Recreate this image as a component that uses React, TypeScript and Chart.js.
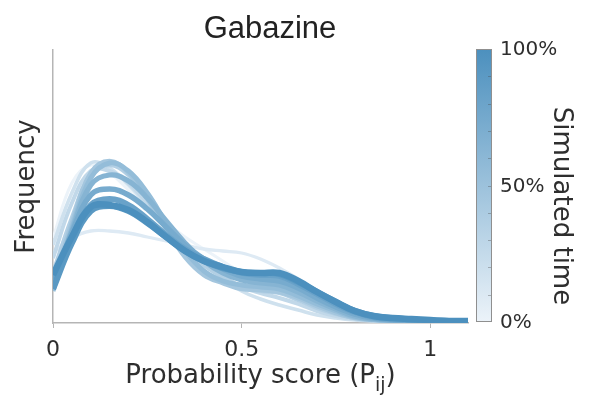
import React, { useEffect, useRef } from "react";
import { Chart, registerables } from "chart.js";

Chart.register(...registerables);

// Probability score grid shared by every curve
const scores = [
  0, 0.05, 0.1, 0.15, 0.2, 0.25, 0.3, 0.35, 0.4, 0.45, 0.5, 0.55,
  0.6, 0.65, 0.7, 0.75, 0.8, 0.85, 0.9, 0.95, 1, 1.05, 1.1,
];

// Fraction of simulated time at which each distribution was taken
const simulatedTime = [0, 0.09, 0.18, 0.27, 0.36, 0.45, 0.55, 0.64, 0.73, 0.82, 0.91, 1];

// Frequency (arbitrary units) of each distribution over the score grid
const freqT00 = [85, 140, 158, 150, 133, 115, 100, 86, 74, 62, 50, 40, 31, 22, 14, 8, 4, 2.5, 1.5, 1, 0.7, 0.4, 0.2];
const freqT09 = [70, 85, 92, 92, 90, 86, 82, 78, 74, 72, 70, 64, 55, 44, 32, 21, 12, 6, 3, 2, 1, 0.6, 0.3];
const freqT18 = [78, 130, 160, 155, 138, 118, 98, 80, 62, 45, 32, 24, 18, 13, 8, 5, 3, 2, 1.2, 0.8, 0.5, 0.3, 0.2];
const freqT27 = [65, 120, 152, 152, 140, 120, 100, 80, 62, 48, 36, 30, 25, 19, 12, 7, 4, 2.5, 1.5, 1, 0.6, 0.4, 0.2];
const freqT36 = [50, 105, 148, 158, 148, 126, 100, 76, 58, 46, 36, 32, 30, 23, 15, 9, 5, 3, 2, 1.2, 0.8, 0.5, 0.3];
const freqT45 = [38, 100, 150, 162, 150, 124, 94, 66, 48, 40, 34, 33, 31, 25, 17, 10, 5, 3, 2, 1.2, 0.8, 0.5, 0.3];
const freqT55 = [32, 95, 145, 160, 152, 130, 100, 72, 52, 42, 38, 36, 34, 27, 19, 12, 6, 3.5, 2.5, 1.5, 1, 0.6, 0.4];
const freqT64 = [36, 92, 138, 148, 142, 125, 102, 80, 62, 50, 43, 40, 38, 31, 22, 14, 7, 4, 2.5, 1.5, 1, 0.6, 0.4];
const freqT73 = [40, 90, 128, 134, 128, 114, 96, 78, 64, 54, 47, 44, 42, 35, 25, 16, 9, 5, 3, 2, 1.3, 0.8, 0.5];
const freqT82 = [44, 86, 118, 124, 118, 104, 88, 74, 64, 56, 50, 48, 47, 39, 29, 19, 11, 6, 4, 3, 2, 1.5, 1];
const freqT91 = [34, 80, 112, 117, 112, 100, 86, 72, 62, 55, 51, 50, 49, 41, 31, 21, 12, 7, 5, 3.5, 2.5, 2, 1.5];
const freqT100 = [48, 86, 116, 118, 113, 101, 86, 72, 62, 56, 51, 50, 50, 42, 31, 21, 12, 7, 5, 4, 3, 2, 2];

const frequencies = [
  freqT00, freqT09, freqT18, freqT27, freqT36, freqT45,
  freqT55, freqT64, freqT73, freqT82, freqT91, freqT100,
];

const xTicks = [0, 0.5, 1];
const colorbarTicks = [0, 0.5, 1];
const colorbarLabels = ["0%", "50%", "100%"];

const LIGHT = [236, 243, 249];
const DARK = [76, 144, 190];

function timeColor(t: number): string {
  const c = LIGHT.map((l, i) => Math.round(l + (DARK[i] - l) * t));
  return `rgb(${c[0]}, ${c[1]}, ${c[2]})`;
}

const TEXT = "#2e2e2e";
const SANS = "'DejaVu Sans', sans-serif";

const decorations = {
  id: "decorations",
  afterDraw(chart: Chart) {
    const { ctx, chartArea } = chart;
    const cx = (chartArea.left + chartArea.right) / 2;
    ctx.save();
    ctx.fillStyle = "#222222";

    // title
    ctx.font = "31px 'Liberation Sans', Arial, sans-serif";
    ctx.textAlign = "center";
    ctx.textBaseline = "alphabetic";
    ctx.fillText("Gabazine", 270, 38);

    // y axis title
    ctx.fillStyle = TEXT;
    ctx.font = `26px ${SANS}`;
    ctx.save();
    ctx.translate(34, (chartArea.top + chartArea.bottom) / 2);
    ctx.rotate(-Math.PI / 2);
    ctx.fillText("Frequency", 0, 0);
    ctx.restore();

    // x axis title with subscript
    const main = "Probability score (P";
    const sub = "ij";
    const tail = ")";
    ctx.font = `26px ${SANS}`;
    const wMain = ctx.measureText(main).width;
    const wTail = ctx.measureText(tail).width;
    ctx.font = `19px ${SANS}`;
    const wSub = ctx.measureText(sub).width;
    const total = wMain + wSub + wTail;
    let x = cx - total / 2;
    ctx.textAlign = "left";
    ctx.font = `26px ${SANS}`;
    ctx.fillText(main, x, 383);
    x += wMain;
    ctx.font = `19px ${SANS}`;
    ctx.fillText(sub, x, 391);
    x += wSub;
    ctx.font = `26px ${SANS}`;
    ctx.fillText(tail, x, 383);

    // colour bar for simulated time
    const barL = 476;
    const barW = 16;
    const barT = chartArea.top - 1;
    const barB = chartArea.bottom - 1;
    const grad = ctx.createLinearGradient(0, barB, 0, barT);
    grad.addColorStop(0, timeColor(0));
    grad.addColorStop(1, timeColor(1));
    ctx.fillStyle = grad;
    ctx.fillRect(barL, barT, barW, barB - barT);
    ctx.strokeStyle = "#8f8f8f";
    ctx.lineWidth = 1;
    ctx.strokeRect(barL + 0.5, barT + 0.5, barW - 1, barB - barT - 1);
    ctx.strokeStyle = "rgba(70,70,70,0.35)";
    for (let i = 1; i < 10; i++) {
      const y = Math.round(barB - ((barB - barT) * i) / 10) + 0.5;
      ctx.beginPath();
      ctx.moveTo(barL + barW - 4, y);
      ctx.lineTo(barL + barW - 1, y);
      ctx.stroke();
    }
    ctx.fillStyle = TEXT;
    ctx.font = `20px ${SANS}`;
    ctx.textAlign = "left";
    ctx.textBaseline = "middle";
    colorbarTicks.forEach((v, i) => {
      const y = barB - (barB - barT) * v;
      ctx.fillText(colorbarLabels[i], 500, y + 1);
    });

    ctx.font = `26px ${SANS}`;
    ctx.textAlign = "center";
    ctx.textBaseline = "alphabetic";
    ctx.save();
    ctx.translate(554, 206);
    ctx.rotate(Math.PI / 2);
    ctx.fillText("Simulated time", 0, 0);
    ctx.restore();

    ctx.restore();
  },
};

export default function App() {
  const canvasRef = useRef<HTMLCanvasElement | null>(null);

  useEffect(() => {
    const canvas = canvasRef.current;
    if (!canvas) return;
    const n = frequencies.length;
    const datasets = frequencies.map((freq, i) => {
      const t = simulatedTime[i];
      return {
        label: `${Math.round(t * 100)}%`,
        data: scores.map((s, j) => ({ x: s, y: freq[j] })),
        borderColor: timeColor(t),
        borderWidth: 3 + 3.5 * t,
        pointRadius: 0,
        fill: false,
        tension: 0.4,
        order: n - i,
      };
    });

    const chart = new Chart(canvas, {
      type: "line",
      data: { datasets },
      options: {
        responsive: false,
        animation: false,
        layout: { padding: { top: 50, right: 123, left: 0, bottom: 0 } },
        plugins: {
          legend: { display: false },
          tooltip: { enabled: false },
          title: { display: false },
        },
        scales: {
          x: {
            type: "linear",
            min: 0,
            max: 1.1,
            afterFit: (s: any) => {
              s.height = 82;
            },
            afterBuildTicks: (s: any) => {
              s.ticks = xTicks.map((v) => ({ value: v }));
            },
            ticks: {
              color: TEXT,
              font: { family: "'DejaVu Sans', sans-serif", size: 22 },
              padding: 9,
              maxRotation: 0,
              callback: (v: any) => String(v),
            },
            grid: {
              display: true,
              drawOnChartArea: false,
              drawTicks: true,
              tickLength: 5,
              color: "#b5b5b5",
            },
            border: { display: true, color: "#b5b5b5", width: 1.5 },
          },
          y: {
            type: "linear",
            min: 0,
            max: 273,
            afterFit: (s: any) => {
              s.width = 53;
            },
            ticks: { display: false },
            grid: { display: false },
            border: { display: true, color: "#b5b5b5", width: 1.5 },
          },
        },
      },
      plugins: [decorations],
    });

    return () => chart.destroy();
  }, []);

  return (
    <div style={{ position: "absolute", left: 0, top: 0, width: 591, height: 405, background: "#ffffff" }}>
      <canvas ref={canvasRef} width={591} height={405} style={{ display: "block" }} />
    </div>
  );
}
